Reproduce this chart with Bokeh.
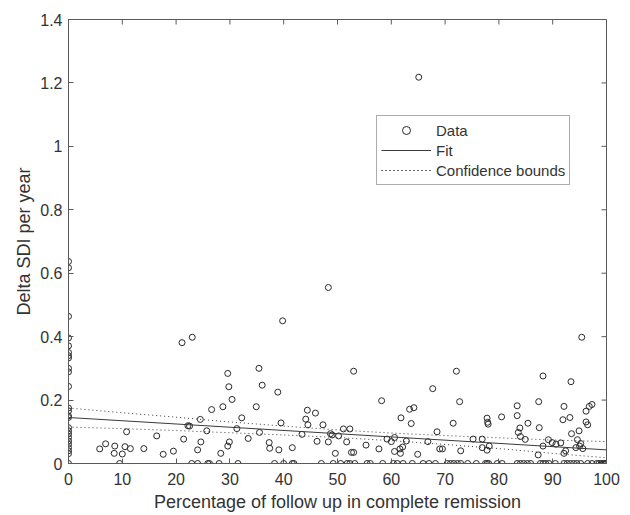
import math
from bokeh.plotting import figure
from bokeh.models import Range1d, FixedTicker, Legend, LegendItem
from bokeh.embed import file_html
from bokeh.resources import INLINE

# ---- data ----
zero_col_y = [0.637, 0.617, 0.464, 0.396, 0.371, 0.35, 0.34, 0.333, 0.30, 0.289, 0.243,
              0.175, 0.166, 0.15, 0.145, 0.113, 0.103, 0.093, 0.082, 0.071, 0.061, 0.05,
              0.04, 0.031, 0.0]

nz_x = [5.8, 6.9, 8.6, 8.5, 10.0, 10.5, 11.5, 10.8, 14.0, 16.4, 17.6, 19.5,
        21.1, 23.0, 39.8, 29.6, 29.8, 30.4, 26.6, 28.7, 35.4, 36.0, 38.9, 34.9, 24.5,
        22.2, 22.5, 25.7, 32.2, 31.3, 35.5, 33.4, 39.5, 21.4, 24.6, 24.0, 29.9, 29.6,
        28.3, 37.3, 37.4, 39.1,
        48.3, 65.1, 53.0, 58.2, 44.4, 45.9, 44.1, 44.5, 47.3, 43.4, 48.7, 49.0, 50.2,
        51.1, 52.3, 46.2, 48.3, 51.7, 41.6, 49.6, 52.6, 53.0, 55.3, 57.7, 59.2, 60.0,
        60.6, 60.6,
        72.1, 67.7, 72.7, 63.4, 64.2, 61.8, 63.7, 71.5, 68.5, 77.8, 77.9, 78.0, 80.5,
        62.8, 66.8, 75.2, 76.9, 76.9, 78.2, 77.8, 62.1, 61.6, 61.7, 64.9, 69.0, 69.5,
        72.9,
        95.4, 88.2, 93.4, 87.4, 83.4, 83.4, 92.1, 97.3, 96.8, 96.2, 91.9, 93.2, 96.2,
        96.5, 85.4, 83.9, 83.6, 87.5, 94.9, 93.5, 84.0, 84.9, 89.2, 89.9, 90.6, 91.5,
        94.6, 95.2, 94.3, 95.6, 95.0, 88.2, 92.4, 92.1, 87.3]
nz_y = [0.046, 0.062, 0.055, 0.032, 0.030, 0.053, 0.047, 0.10, 0.047, 0.087, 0.029, 0.039,
        0.381, 0.398, 0.45, 0.284, 0.242, 0.202, 0.17, 0.179, 0.30, 0.247, 0.225, 0.179,
        0.139, 0.119, 0.118, 0.103, 0.144, 0.11, 0.098, 0.079, 0.128, 0.077, 0.068, 0.043,
        0.068, 0.055, 0.032, 0.066, 0.048, 0.043,
        0.555, 1.218, 0.291, 0.198, 0.168, 0.159, 0.14, 0.122, 0.122, 0.092, 0.094, 0.09,
        0.087, 0.109, 0.109, 0.07, 0.068, 0.068, 0.05, 0.032, 0.035, 0.035, 0.058, 0.046,
        0.077, 0.069, 0.082, 0.038,
        0.291, 0.236, 0.195, 0.171, 0.176, 0.144, 0.126, 0.127, 0.10, 0.143, 0.13, 0.124,
        0.147, 0.071, 0.069, 0.077, 0.077, 0.05, 0.055, 0.042, 0.052, 0.046, 0.032, 0.029,
        0.046, 0.046, 0.04,
        0.398, 0.276, 0.258, 0.195, 0.182, 0.151, 0.18, 0.186, 0.18, 0.165, 0.138, 0.145,
        0.131, 0.122, 0.127, 0.112, 0.098, 0.113, 0.103, 0.094, 0.085, 0.076, 0.075, 0.066,
        0.061, 0.065, 0.075, 0.063, 0.05, 0.047, 0.055, 0.055, 0.04, 0.032, 0.027]

zero_row_x = [9.5, 22.9, 24.0, 25.9, 26.2, 28.0, 31.5, 38.3, 40.0, 41.6, 41.9, 47.0, 49.2,
              50.6, 51.8, 52.3, 53.2, 55.5, 56.1, 58.4, 60.4, 61.1, 62.2, 63.9, 65.9, 67.0,
              68.2, 70.4, 71.0, 71.6, 72.3, 72.9, 74.2, 75.8, 77.5, 77.8, 78.1, 79.7, 80.6,
              83.4, 84.0, 84.6, 85.3, 85.9, 87.7, 88.2, 88.7, 89.3, 90.5, 92.1, 92.7, 93.3,
              93.9, 94.5, 95.2, 96.5, 97.3, 98.2, 98.6, 99.0, 99.4, 99.7, 99.8, 100.0]

fit_x = [0, 100]
fit_y = [0.145, 0.043]

bound_x = [0, 10, 20, 30, 40, 50, 60, 70, 80, 90, 100]
upper_y = [0.175, 0.160, 0.146, 0.131, 0.118, 0.106, 0.096, 0.088, 0.081, 0.074, 0.069]
lower_y = [0.115, 0.110, 0.104, 0.097, 0.090, 0.082, 0.072, 0.060, 0.047, 0.032, 0.018]

x_ticks = [0, 10, 20, 30, 40, 50, 60, 70, 80, 90, 100]
y_ticks = [0, 0.2, 0.4, 0.6, 0.8, 1, 1.2, 1.4]
y_tick_labels = ["0", "0.2", "0.4", "0.6", "0.8", "1", "1.2", "1.4"]
X_MAX = 100
Y_MAX = 1.4

all_x = [0.0] * len(zero_col_y) + nz_x + zero_row_x
all_y = zero_col_y + nz_y + [0.0] * len(zero_row_x)

FONT = "Liberation Sans"
TXT = "#333333"
AX = "#5a5a5a"
MK = "#2a2a2a"

p = figure(width=628, height=515, output_backend="svg", toolbar_location=None,
           x_range=Range1d(0, X_MAX), y_range=Range1d(0, Y_MAX),
           min_border_left=68, min_border_right=22, min_border_top=19, min_border_bottom=52)
p.xgrid.visible = False
p.ygrid.visible = False
p.outline_line_color = AX
p.background_fill_color = "white"
p.border_fill_color = "white"

data_r = p.scatter(all_x, all_y, marker="circle", size=6, fill_color=None,
                   line_color=MK, line_width=1)
fit_r = p.line(fit_x, fit_y, line_color="#3a3a3a", line_width=1)
up_r = p.line(bound_x, upper_y, line_color="#3a3a3a", line_width=1, line_dash="1 3")
lo_r = p.line(bound_x, lower_y, line_color="#3a3a3a", line_width=1, line_dash="1 3")

# inward ticks on the top and right edges of the box (half of each dash is clipped away)
p.scatter(x_ticks, [Y_MAX] * len(x_ticks), marker="dash", size=10, angle=math.pi / 2,
          line_color=AX, line_width=1)
p.scatter([X_MAX] * len(y_ticks), y_ticks, marker="dash", size=10,
          line_color=AX, line_width=1)

for ax in (p.xaxis[0], p.yaxis[0]):
    ax.axis_line_color = AX
    ax.major_tick_line_color = AX
    ax.major_tick_in = 5
    ax.major_tick_out = 0
    ax.minor_tick_line_color = None
    ax.major_label_text_font = FONT
    ax.major_label_text_font_size = "16px"
    ax.major_label_text_color = TXT
    ax.axis_label_text_font = FONT
    ax.axis_label_text_font_size = "18px"
    ax.axis_label_text_color = TXT
    ax.axis_label_text_font_style = "normal"

p.xaxis.ticker = FixedTicker(ticks=x_ticks)
p.yaxis.ticker = FixedTicker(ticks=y_ticks)
p.yaxis.major_label_overrides = {t: l for t, l in zip(y_ticks, y_tick_labels)}
p.xaxis.axis_label = "Percentage of follow up in complete remission"
p.yaxis.axis_label = "Delta SDI per year"
p.xaxis.major_label_standoff = 9
p.xaxis.axis_label_standoff = 4
p.yaxis.major_label_standoff = 6
p.yaxis.axis_label_standoff = 3

legend = Legend(items=[LegendItem(label="Data", renderers=[data_r]),
                       LegendItem(label="Fit", renderers=[fit_r]),
                       LegendItem(label="Confidence bounds", renderers=[up_r, lo_r])],
                location=(308, 278))
legend.label_text_font = FONT
legend.label_text_font_size = "15px"
legend.label_text_color = TXT
legend.border_line_color = AX
legend.border_line_width = 1
legend.background_fill_alpha = 1
legend.padding = 4
legend.spacing = 0
legend.margin = 0
legend.glyph_width = 50
legend.glyph_height = 20
legend.label_height = 20
legend.label_standoff = 5
p.add_layout(legend)

open("out.html", "w").write(file_html(p, INLINE))
